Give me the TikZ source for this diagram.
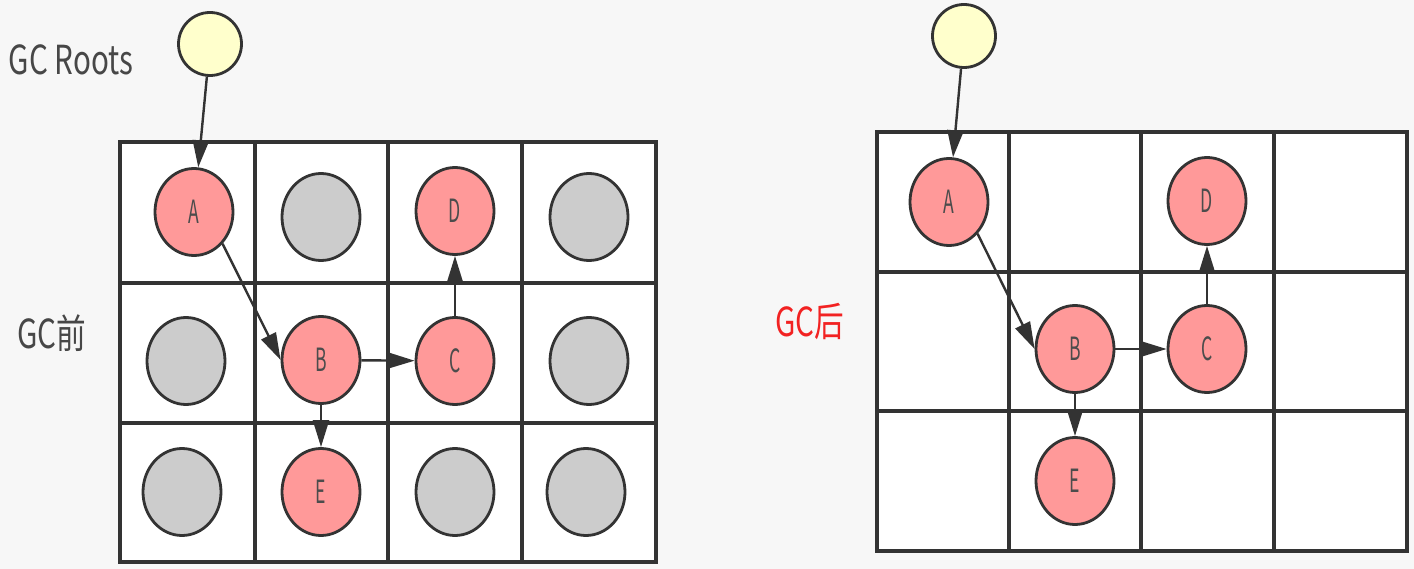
\documentclass[tikz,border=0pt]{standalone}
\usepackage{fontspec}
\usepackage{xcolor}
\usepackage{tikz}
\usetikzlibrary{arrows.meta,shapes.geometric}
\newfontfamily\cjk[FakeStretch=0.74]{Noto Sans CJK SC}
\newfontfamily\lbl[FakeStretch=0.55]{Noto Sans CJK SC}
\definecolor{bgcol}{HTML}{F7F7F7}
\definecolor{linecol}{HTML}{333333}
\definecolor{livecol}{HTML}{FF9999}
\definecolor{deadcol}{HTML}{CCCCCC}
\definecolor{rootcol}{HTML}{FFFFCC}
\definecolor{afterred}{HTML}{F22222}

\begin{document}
\begin{tikzpicture}[
  x=1pt,y=-1pt,
  every node/.style={inner sep=0pt},
  live/.style={ellipse,draw=linecol,line width=2.8pt,fill=livecol,minimum width=78pt,minimum height=87pt,font=\lbl\fontsize{32}{32}\selectfont,text=black!70},
  dead/.style={ellipse,draw=linecol,line width=2.8pt,fill=deadcol,minimum width=78pt,minimum height=87pt},
  root/.style={circle,draw=linecol,line width=2.8pt,fill=rootcol,minimum size=63pt},
  gridline/.style={draw=linecol,line width=3.4pt},
  title/.style={font=\cjk\fontsize{40}{40}\selectfont,text=black!72},
  arrow/.style={-{Triangle[length=27pt,width=16pt]},line width=2.4pt,draw=linecol}
]
\useasboundingbox[fill=bgcol] (0,0) rectangle (1414,569);

% left grid (before GC)
\draw[gridline,fill=white] (120,142) rectangle (656,562);
\foreach \x in {255,388,522} \draw[gridline] (\x,142) -- (\x,562);
\foreach \y in {283,423} \draw[gridline] (120,\y) -- (656,\y);

\node[title] (roots) at (71,60) {GC Roots};
\node[title] (before) at (52,333) {GC前};

\node[root] (rootL) at (210,44) {};
\node[live] (lA) at (194,212) {A};
\node[dead] (lG1) at (321,217) {};
\node[live] (lD) at (455,211) {D};
\node[dead] (lG2) at (589,217) {};
\node[dead] (lG3) at (186,361) {};
\node[live] (lB) at (321,360) {B};
\node[live] (lC) at (455,361) {C};
\node[dead] (lG4) at (589,361) {};
\node[dead] (lG5) at (182,492) {};
\node[live] (lE) at (321,492) {E};
\node[dead] (lG6) at (455,492) {};
\node[dead] (lG7) at (586,492) {};

\draw[arrow] (rootL) -- (lA);
\draw[arrow] (lA.south east) -- (lB.west);
\draw[arrow] (lB) -- (lC);
\draw[arrow] (lB) -- (lE);
\draw[arrow] (lC) -- (lD);

% right grid (after GC)
\draw[gridline,fill=white] (877,132) rectangle (1407,551);
\foreach \x in {1009,1141,1274} \draw[gridline] (\x,132) -- (\x,551);
\foreach \y in {272,411} \draw[gridline] (877,\y) -- (1407,\y);

\node[title,text=afterred] (after) at (810,322) {GC后};

\node[root] (rootR) at (964,36) {};
\node[live] (rA) at (949,202) {A};
\node[live] (rD) at (1207,201) {D};
\node[live] (rB) at (1075,349) {B};
\node[live] (rC) at (1207,349) {C};
\node[live] (rE) at (1075,481) {E};

\draw[arrow] (rootR) -- (rA);
\draw[arrow] (rA.south east) -- (rB.west);
\draw[arrow] (rB) -- (rC);
\draw[arrow] (rB) -- (rE);
\draw[arrow] (rC) -- (rD);
\end{tikzpicture}
\end{document}
